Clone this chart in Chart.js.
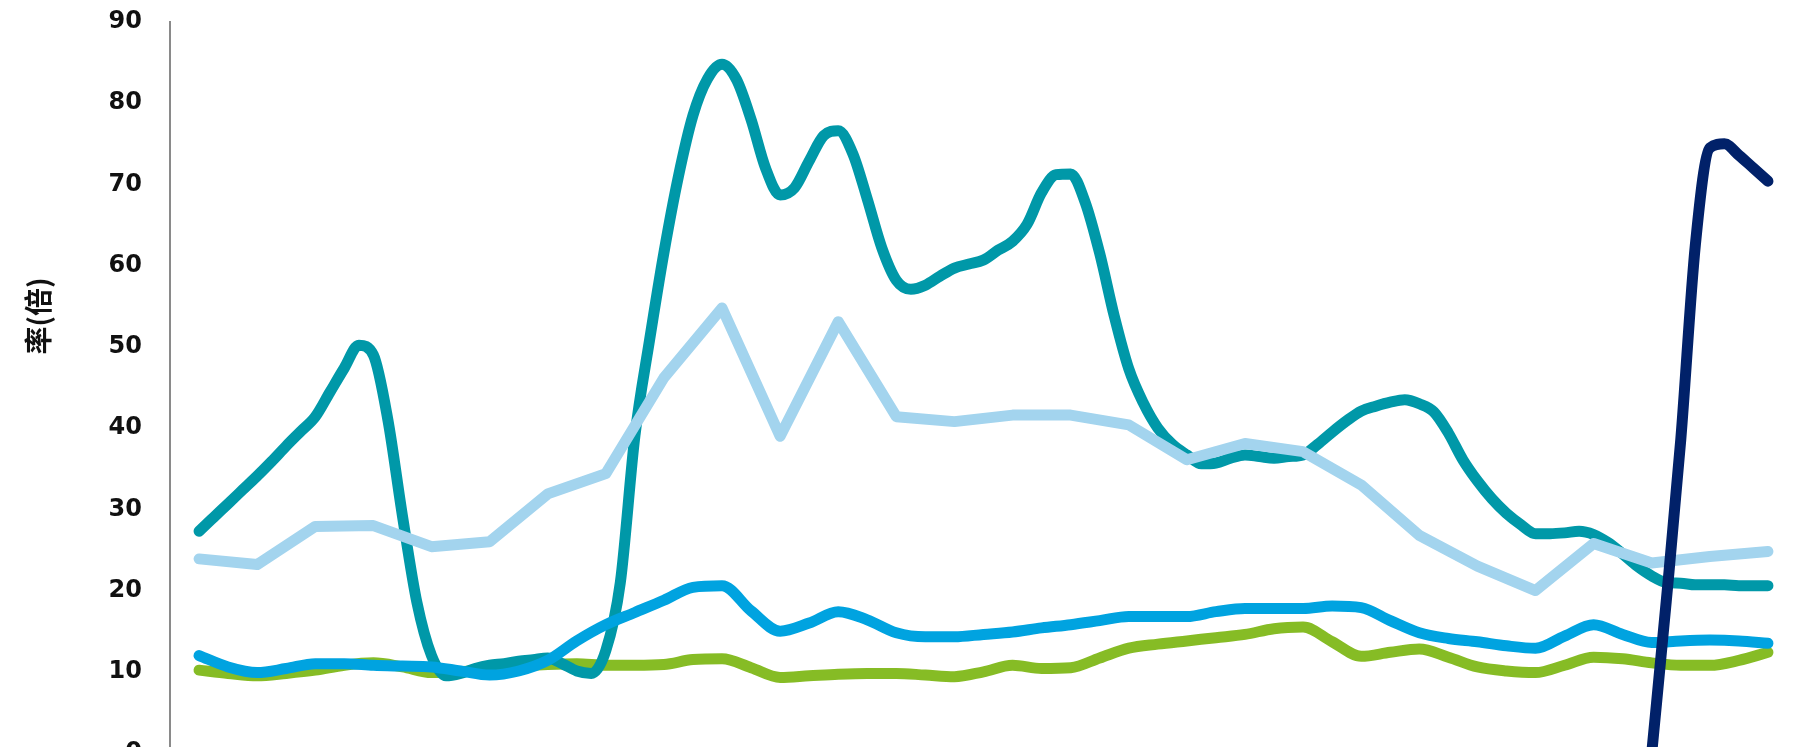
<!DOCTYPE html>
<html>
<head>
<meta charset="utf-8">
<title>市盈率</title>
<script src="https://cdn.jsdelivr.net/npm/chart.js@4.4.1/dist/chart.umd.min.js"></script>
<style>
  html, body { margin: 0; padding: 0; background: #fff; overflow: hidden; }
  #wrap { width: 1798px; height: 780px; }
</style>
</head>
<body>
<div id="wrap"><canvas id="peChart" width="1798" height="780"></canvas></div>
<script>
// one category per year; the smooth series are sampled more often
var years = [1991, 1992, 1993, 1994, 1995, 1996, 1997, 1998, 1999, 2000,
             2001, 2002, 2003, 2004, 2005, 2006, 2007, 2008, 2009, 2010,
             2011, 2012, 2013, 2014, 2015, 2016, 2017, 2018];
var yTicks = [0, 10, 20, 30, 40, 50, 60, 70, 80, 90];
var yTitle = '率(倍)';

// light blue: one value per year
var lightBlue = [23.9, 23.2, 27.9, 28.0, 25.4, 26.0, 31.9, 34.4, 46.2, 54.8,
                 39.0, 53.1, 41.4, 40.8, 41.6, 41.6, 40.4, 36.1, 38.1, 37.1,
                 33.0, 26.8, 23.0, 20.0, 25.8, 23.4, 24.2, 24.8];

// teal: quarterly, from the first year
var teal = [
  27.3, 29.0, 30.7, 32.4,  34.1, 35.9, 37.8, 39.6,  41.4, 44.4, 47.4, 50.2,
  49.0, 41.0, 29.2, 18.5,  12.0, 9.5, 9.8, 10.4,    10.8, 11.0, 11.3, 11.5,
  11.7, 11.0, 10.1, 9.8,   12.6, 21.0, 39.0, 50.7,  61.6, 71.0, 78.5, 83.0,
  84.8, 82.9, 78.0, 72.0,  68.7, 69.6, 72.9, 76.0,  76.6, 73.8, 68.2, 62.2,
  58.2, 57.1, 57.6, 58.7,  59.7, 60.2, 60.7, 61.9,  63.0, 65.1, 69.0, 71.2,
  71.3, 67.8, 61.5, 53.8,  47.3, 43.1, 40.0, 38.0,  36.7, 35.6, 35.7, 36.3,
  36.7, 36.5, 36.3, 36.5,  36.7, 38.0, 39.5, 40.9,  42.1, 42.7, 43.2, 43.5,
  43.0, 42.0, 39.4, 36.1,  33.5, 31.3, 29.5, 28.1,  27.0, 27.0, 27.1, 27.3,
  26.9, 25.9, 24.5, 23.0,  21.8, 21.0, 20.9, 20.7,  20.7, 20.7, 20.6, 20.6,
  20.6
];

// blue and green: half-yearly, from the first year
var blue = [
  12.0, 10.6, 9.9, 10.4, 11.0, 11.0, 10.8, 10.7, 10.6, 10.1,
  9.6, 10.1, 11.4, 13.8, 15.8, 17.3, 18.8, 20.4, 20.6, 17.5,
  15.0, 16.0, 17.4, 16.4, 14.8, 14.3, 14.3, 14.6, 14.9, 15.4,
  15.8, 16.3, 16.8, 16.8, 16.8, 17.4, 17.8, 17.8, 17.8, 18.1,
  17.9, 16.3, 14.8, 14.1, 13.7, 13.2, 12.9, 14.4, 15.8, 14.6,
  13.6, 13.8, 13.9, 13.8, 13.5
];
var green = [
  10.2, 9.8, 9.5, 9.8, 10.2, 10.8, 11.1, 10.6, 9.9, 10.0,
  10.4, 10.7, 10.9, 11.0, 10.8, 10.8, 10.9, 11.5, 11.6, 10.5,
  9.3, 9.5, 9.7, 9.8, 9.8, 9.6, 9.4, 10.0, 10.8, 10.4,
  10.5, 11.7, 12.9, 13.4, 13.8, 14.2, 14.6, 15.3, 15.5, 13.7,
  11.9, 12.4, 12.8, 11.8, 10.6, 10.1, 9.9, 10.8, 11.8, 11.6,
  11.1, 10.8, 10.8, 11.4, 12.4
];

// navy: quarterly, only from year index 25
var navyStart = 25;
var navy = [0.0, 18.7, 38.6, 62.5, 74.5, 75.0, 73.6, 72.0, 70.4];

function toPoints(values, start, step) {
  return values.map(function (v, k) {
    return { x: start + k * step, y: v };
  });
}

function lineSet(label, points, color, smooth) {
  return {
    label: label,
    data: points,
    borderColor: color,
    backgroundColor: color,
    borderWidth: 11,
    borderCapStyle: 'round',
    borderJoinStyle: 'round',
    pointRadius: 0,
    fill: false,
    tension: smooth ? 0.4 : 0,
    cubicInterpolationMode: smooth ? 'monotone' : 'default'
  };
}

// rotated axis title, sits a bit above the middle of the axis
var axisTitle = {
  id: 'axisTitle',
  afterDraw: function (chart) {
    var ctx = chart.ctx;
    ctx.save();
    ctx.translate(38, 316);
    ctx.rotate(-Math.PI / 2);
    ctx.font = 'bold 28px "Noto Sans CJK SC"';
    ctx.fillStyle = '#111';
    ctx.textAlign = 'center';
    ctx.textBaseline = 'middle';
    ctx.fillText(yTitle, 0, 0);
    ctx.restore();
  }
};

var ctx = document.getElementById('peChart').getContext('2d');
var peChart = new Chart(ctx, {
  type: 'line',
  data: {
    // first dataset is drawn on top
    datasets: [
      lineSet('navy', toPoints(navy, navyStart, 0.25), '#012169', true),
      lineSet('blue', toPoints(blue, 0, 0.5), '#00A3E0', true),
      lineSet('light blue', toPoints(lightBlue, 0, 1), '#A3D4EE', false),
      lineSet('teal', toPoints(teal, 0, 0.25), '#0098A8', true),
      lineSet('green', toPoints(green, 0, 0.5), '#86BC25', true)
    ]
  },
  options: {
    responsive: false,
    animation: false,
    // the plot runs past the bottom of the window, as in the cropped original
    layout: { padding: { top: 22, right: 1, bottom: 27, left: 0 } },
    plugins: {
      legend: { display: false },
      tooltip: { enabled: false }
    },
    scales: {
      x: {
        type: 'linear',
        min: -0.5,
        max: years.length - 0.5,
        display: false
      },
      y: {
        min: yTicks[0],
        max: yTicks[yTicks.length - 1],
        afterBuildTicks: function (scale) {
          scale.ticks = yTicks.map(function (v) { return { value: v }; });
        },
        afterFit: function (scale) {
          scale.width = 170;
          scale.paddingTop = 0;
          scale.paddingBottom = 0;
        },
        grid: { display: false, drawTicks: false },
        border: { display: true, color: '#8a8a8a', width: 2 },
        ticks: {
          padding: 28,
          color: '#111',
          font: { family: '"DejaVu Sans"', size: 24, weight: 'bold' }
        }
      }
    }
  },
  plugins: [axisTitle]
});
</script>
</body>
</html>
